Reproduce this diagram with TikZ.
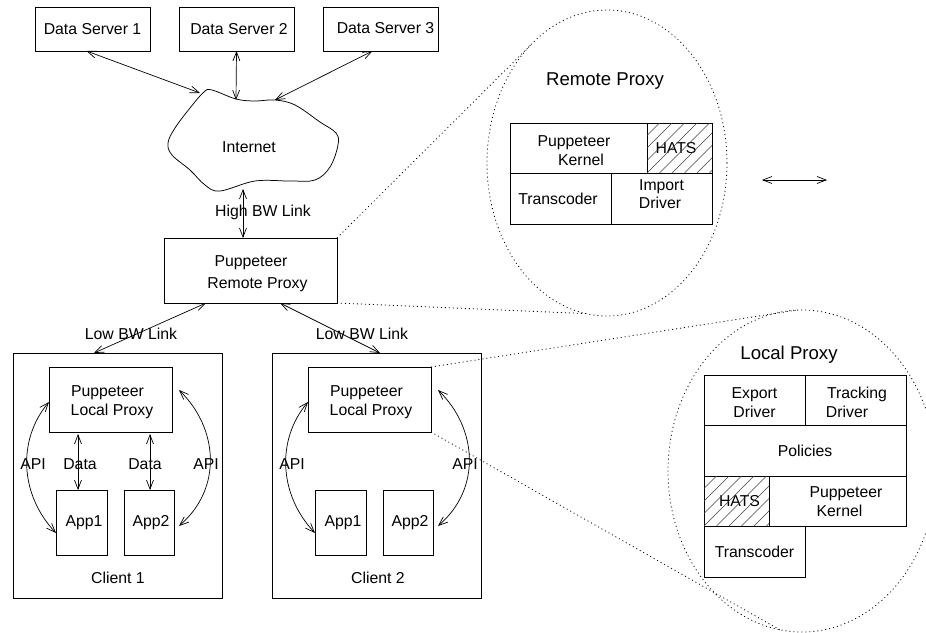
\documentclass[tikz,border=0pt]{standalone}
\usepackage{fontspec}
\setmainfont{Liberation Sans}
\usetikzlibrary{shapes.geometric, arrows.meta, calc}
% pushes a block of lines down by #1 when put in front of its first line
\newcommand{\PushDown}[1]{\rule{0pt}{\dimexpr11pt+2\dimexpr#1\relax\relax}}
\tikzset{
    BoxNode/.style={draw, anchor=north west, inner sep=0pt, outer sep=0pt, align=center, line width=0.75pt},
    PlainText/.style={inner sep=0pt, align=center},
    TitleText/.style={inner sep=0pt, font=\fontsize{18.6}{22}\selectfont},
    LinkArrow/.style={{Straight Barb[length=9pt,width=7pt]}-{Straight Barb[length=9pt,width=7pt]}, line width=0.7pt},
    ZoomEllipse/.style={draw, ellipse, inner sep=0pt, outer sep=0pt, line width=0.8pt, dash pattern=on 1pt off 3pt},
    ZoomLine/.style={line width=0.8pt, dash pattern=on 1pt off 3pt},
    HatchLine/.style={line width=0.45pt, black!75}
}
\begin{document}
\begin{tikzpicture}[x=1pt, y=-1pt, font=\fontsize{15.8}{19}\selectfont]
    \path[use as bounding box, clip] (0,0) rectangle (926,632);

    % data servers
    \node[BoxNode, minimum width=115, minimum height=44] (server1) at (35,7) {Data Server 1};
    \node[BoxNode, minimum width=115, minimum height=44] (server2) at (179,7) {\hspace*{5pt}Data Server 2};
    \node[BoxNode, minimum width=115, minimum height=44] (server3) at (323,7) {\hspace*{10pt}\raisebox{3pt}{Data Server 3}};

    % internet cloud
    \draw[line width=0.75pt] plot[smooth cycle, tension=0.6] coordinates {
        (204,92) (212,90) (236,99) (255,101) (275,100) (295,105) (320,122) (336,133) (338,145)
        (330,167) (315,180) (290,181) (255,181) (220,191) (205,185) (190,170) (172,155) (168,143) (175,128) (190,108)};
    \node[PlainText] (internet) at (249,147) {Internet};
    \coordinate (cloudLeft) at (200,93);
    \coordinate (cloudTop) at (236,100);
    \coordinate (cloudRight) at (275,100);
    \coordinate (cloudBottom) at (243,189);

    \draw[LinkArrow] ([xshift=-6pt]server1.south) -- (cloudLeft);
    \draw[LinkArrow] (server2.south) -- (cloudTop);
    \draw[LinkArrow] ([xshift=-8pt]server3.south) -- (cloudRight);

    % remote proxy
    \node[BoxNode, minimum width=173, minimum height=65] (remote) at (164,238) {\PushDown{3.5pt}\hspace*{1pt}Puppeteer\\[3pt]\hspace*{14pt}Remote Proxy};
    \draw[LinkArrow] (cloudBottom) -- ([xshift=-7.5pt]remote.north);
    \node[PlainText] (highlink) at (263,212) {High BW Link};

    % clients
    \foreach \c/\dx in {1/0, 2/259} {
        \node[BoxNode, minimum width=209, minimum height=245] (client\c) at (13+\dx,353) {};
        \node[BoxNode, minimum width=123, minimum height=65] (local\c) at (49+\dx,367) {\PushDown{3pt}Puppeteer\hspace*{6pt}\\\hspace*{3pt}Local Proxy};
        \node[BoxNode, minimum width=51, minimum height=65] (appa\c) at (56+\dx,490) {\hspace*{5pt}App1};
        \node[BoxNode, minimum width=50, minimum height=65] (appb\c) at (124+\dx,490) {\hspace*{4pt}App2};
        \node[PlainText] (clientname\c) at (118+\dx+\c-1,578) {Client \c};
        \node[PlainText] (apileft\c) at (33+\dx,464) {API};
        \node[PlainText] (apiright\c) at (206+\dx,464) {API};
        \draw[LinkArrow] (local\c.west) ++(0,2.5) .. controls +(-32,38) and +(-36,-38) .. ([yshift=-10.5pt]appa\c.west);
        \draw[LinkArrow] ([xshift=7pt,yshift=9.5pt]local\c.east) .. controls +(39,38) and +(44,-38) .. ([xshift=5pt,yshift=-3.5pt]appb\c.east);
    }

    \node[PlainText] (lowlinka) at (131,334) {Low BW Link};
    \node[PlainText] (lowlinkb) at (362,334) {Low BW Link};
    \draw[LinkArrow] ([xshift=-44.5pt]remote.south) -- ([xshift=-23.5pt]client1.north);
    \draw[LinkArrow] ([xshift=29.5pt]remote.south) -- ([xshift=3.5pt]client2.north);

    \draw[LinkArrow] ([xshift=-32.5pt,yshift=-2pt]local1.south) -- ([xshift=-3.5pt]appa1.north);
    \draw[LinkArrow] ([xshift=39.5pt,yshift=-2pt]local1.south) -- ([xshift=1pt]appb1.north);
    \node[PlainText] (dataa) at (80,464) {Data};
    \node[PlainText] (datab) at (145,464) {Data};

    % remote proxy blow-up
    \node[ZoomEllipse, minimum width=240, minimum height=306] (remotezoom) at (607,163) {};
    \draw[ZoomLine] (remote.north east) -- (remotezoom.123.6);
    \draw[ZoomLine] (remote.south east) -- (remotezoom.262);
    \node[TitleText] (remotetitle) at (605,81) {Remote Proxy};
    \node[BoxNode, minimum width=137, minimum height=50] (rkernel) at (510,123) {\PushDown{3pt}Puppeteer\hspace*{9pt}\\\hspace*{5pt}Kernel};
    \node[BoxNode, minimum width=65, minimum height=50] (rhats) at (647,123) {\raisebox{1pt}{HATS}\hspace*{7pt}};
    \node[BoxNode, minimum width=101, minimum height=51] (rtrans) at (510,173) {Transcoder\hspace*{5pt}};
    \node[BoxNode, minimum width=101, minimum height=51] (rimport) at (611,173) {Import\\[-1pt]Driver\hspace*{3pt}\rule[-9.5pt]{0pt}{0pt}};
    \begin{scope}
        \clip (rhats.south west) rectangle (rhats.north east);
        \foreach \d in {0,12.5,...,112.5}
            \draw[HatchLine] ($(rhats.south west)+(\d-50,0)$) -- ++(50,-50);
    \end{scope}

    % free arrow
    \coordinate (freeleft) at (762,180);
    \coordinate (freeright) at (827,180);
    \draw[LinkArrow] (freeleft) -- (freeright);

    % local proxy blow-up
    \node[ZoomEllipse, minimum width=268, minimum height=322] (localzoom) at (802,471) {};
    \draw[ZoomLine] (local2.north east) -- (localzoom.92);
    \draw[ZoomLine] (local2.south east) -- (localzoom.262);
    \node[TitleText] (localtitle) at (789,355) {Local Proxy};
    \node[BoxNode, minimum width=101, minimum height=50] (lexport) at (704,375) {\PushDown{2.5pt}Export\\Driver};
    \node[BoxNode, minimum width=101, minimum height=50] (ltrack) at (805,375) {\PushDown{3pt}\hspace*{3pt}Tracking\\Driver\hspace*{17pt}};
    \node[BoxNode, minimum width=202, minimum height=51] (lpolicies) at (704,425) {Policies};
    \node[BoxNode, minimum width=65, minimum height=50] (lhats) at (704,476) {\hspace*{6pt}HATS};
    \node[BoxNode, minimum width=137, minimum height=50] (lkernel) at (769,476) {\PushDown{1pt}\hspace*{17pt}Puppeteer\\\hspace*{4pt}Kernel};
    \node[BoxNode, minimum width=101, minimum height=51] (ltrans) at (704,526) {Transcoder};
    \begin{scope}
        \clip (lhats.south west) rectangle (lhats.north east);
        \foreach \d in {0,12.5,...,112.5}
            \draw[HatchLine] ($(lhats.south west)+(\d-50,0)$) -- ++(50,-50);
    \end{scope}
\end{tikzpicture}
\end{document}
